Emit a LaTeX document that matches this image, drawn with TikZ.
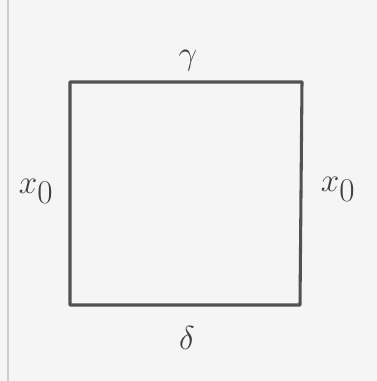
\documentclass[tikz,border=0pt]{standalone}
\begin{document}
\begin{tikzpicture}[x=0.75pt,y=0.75pt,
  edge/.style={draw=black!68,line width=2.3pt,line join=round},
  lbl/.style={text=black!75,inner sep=0pt}]
\fill[black!4] (0,0) rectangle (377,381);
\useasboundingbox (0,0) rectangle (377,381);
\draw[black!20,line width=0.8pt] (8,0) -- (8,381);
\coordinate (tl) at (70,299);
\coordinate (tr) at (302,299);
\coordinate (br) at (300,76);
\coordinate (bl) at (70,76);
\draw[edge] (tl) -- (tr) -- (br) -- (bl) -- cycle;
\node[lbl,font=\fontsize{44}{44}\selectfont] (g) at (188,320) {$\gamma$};
\node[lbl,font=\fontsize{36}{36}\selectfont] (xl) at (36,190) {$x_0$};
\node[lbl,font=\fontsize{36}{36}\selectfont] (xr) at (338,192) {$x_0$};
\node[lbl,font=\fontsize{44}{44}\selectfont] (d) at (187,43) {$\delta$};
\end{tikzpicture}
\end{document}
